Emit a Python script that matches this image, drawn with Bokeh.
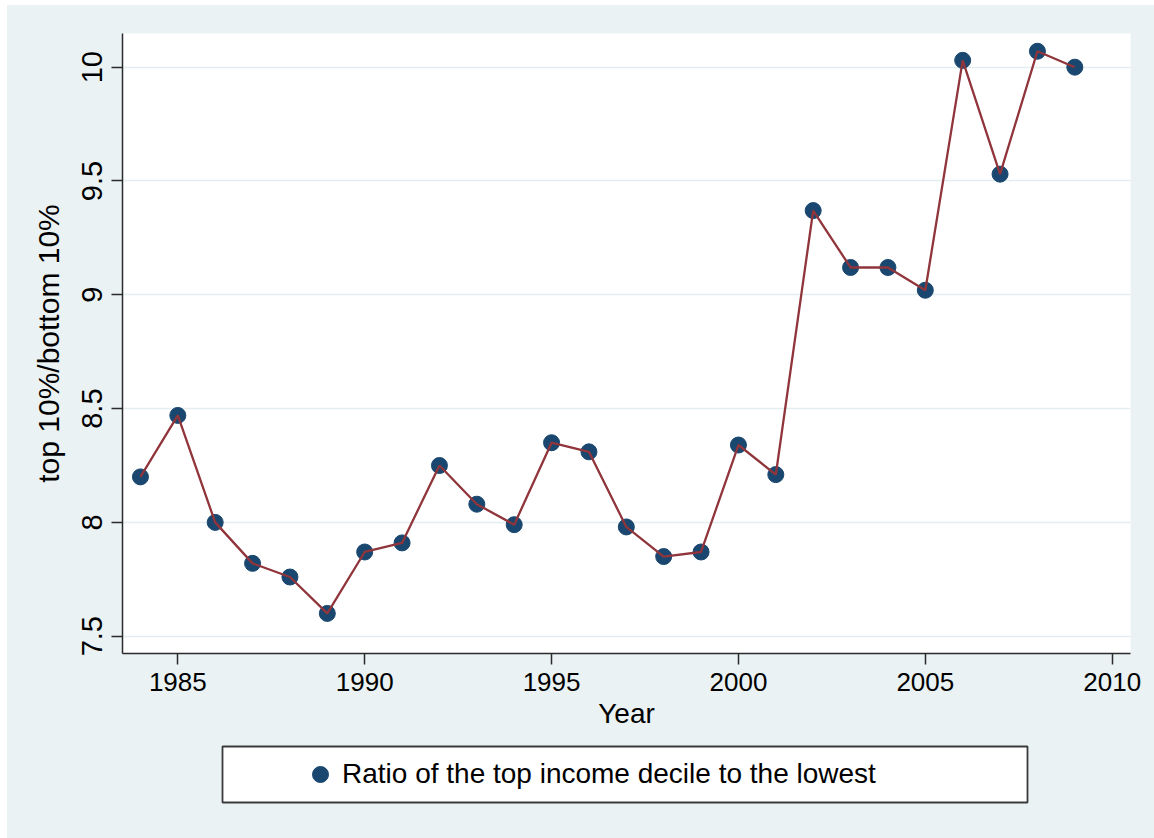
from bokeh.plotting import figure
from bokeh.models import (ColumnDataSource, FixedTicker, NumeralTickFormatter, Legend,
                          LegendItem, Spacer, Range1d)
from bokeh.layouts import column, row
from bokeh.embed import file_html
from bokeh.resources import INLINE

# Income inequality: ratio of the top decile to the bottom decile, by year
years = [1984, 1985, 1986, 1987, 1988, 1989, 1990, 1991, 1992, 1993, 1994, 1995, 1996,
         1997, 1998, 1999, 2000, 2001, 2002, 2003, 2004, 2005, 2006, 2007, 2008, 2009]
ratio = [8.20, 8.47, 8.00, 7.82, 7.76, 7.60, 7.87, 7.91, 8.25, 8.08, 7.99, 8.35, 8.31,
         7.98, 7.85, 7.87, 8.34, 8.21, 9.37, 9.12, 9.12, 9.02, 10.03, 9.53, 10.07, 10.00]

x_ticks = [1985, 1990, 1995, 2000, 2005, 2010]
y_ticks = [7.5, 8, 8.5, 9, 9.5, 10]

series_label = "Ratio of the top income decile to the lowest"
x_title = "Year"
y_title = "top 10%/bottom 10%"

BG = "#eaf2f3"
NAVY = "#1a476f"
MAROON = "#90353b"
AXIS = "#2b2b2b"
FONT = "Liberation Sans"

src = ColumnDataSource(dict(year=years, ratio=ratio))

# ---- main plot -------------------------------------------------------------
p = figure(width=1147, height=735, output_backend="svg", toolbar_location=None,
           x_range=Range1d(1983.52, 2010.49), y_range=Range1d(7.424, 10.148),
           min_border_left=115, min_border_right=24, min_border_top=28, min_border_bottom=87)

p.background_fill_color = "white"
p.border_fill_color = BG
p.outline_line_color = None

# markers first, connecting line drawn over them
pts = p.scatter("year", "ratio", source=src, size=16, color=NAVY)
p.line("year", "ratio", source=src, line_color=MAROON, line_width=2.3)

# grid
p.xgrid.visible = False
p.ygrid.ticker = FixedTicker(ticks=y_ticks)
p.ygrid.grid_line_color = "#e4edef"
p.ygrid.grid_line_width = 1.5

# axes
for ax in (p.xaxis[0], p.yaxis[0]):
    ax.axis_line_color = AXIS
    ax.axis_line_width = 1.5
    ax.major_tick_line_color = AXIS
    ax.major_tick_line_width = 1.5
    ax.major_tick_out = 11
    ax.major_tick_in = 0
    ax.minor_tick_line_color = None
    ax.major_label_text_font = FONT
    ax.major_label_text_color = "black"
    ax.axis_label_text_font = FONT
    ax.axis_label_text_font_style = "normal"
    ax.axis_label_text_color = "black"

p.xaxis.ticker = FixedTicker(ticks=x_ticks)
p.xaxis.formatter = NumeralTickFormatter(format="0")
p.xaxis.axis_label = x_title
p.xaxis.major_label_text_font_size = "26px"
p.xaxis.axis_label_text_font_size = "28px"
p.xaxis.major_label_standoff = 8
p.xaxis.axis_label_standoff = 4

p.yaxis.ticker = FixedTicker(ticks=y_ticks)
p.yaxis.formatter = NumeralTickFormatter(format="0.[0]")
p.yaxis.major_label_orientation = "vertical"
p.yaxis.major_label_text_font_size = "29px"
p.yaxis.axis_label = y_title
p.yaxis.axis_label_text_font_size = "30px"
p.yaxis.major_label_standoff = 9
p.yaxis.axis_label_standoff = 15

# ---- key below the plot ------------------------------------------------------
key = figure(width=1147, height=98, output_backend="svg", toolbar_location=None,
             x_range=Range1d(0, 1), y_range=Range1d(0, 1),
             x_axis_type=None, y_axis_type=None,
             min_border_left=215, min_border_right=127, min_border_top=6, min_border_bottom=36)
key.background_fill_color = "white"
key.border_fill_color = BG
key.outline_line_color = "#3a3a3a"
key.outline_line_width = 1.8
key.xgrid.visible = False
key.ygrid.visible = False

# same series, outside the key's ranges: only its legend swatch shows
key_marker = key.scatter("year", "ratio", source=src, size=16, color=NAVY)

legend = Legend(items=[LegendItem(label=series_label, renderers=[key_marker])],
                location=(78, 8), orientation="vertical",
                glyph_width=40, glyph_height=40, label_standoff=2,
                padding=0, margin=0, spacing=0,
                border_line_alpha=0, background_fill_alpha=0,
                label_text_font=FONT, label_text_font_size="28px",
                label_text_color="black")
key.add_layout(legend)

graph = column(row(p), row(key), spacing=0, styles={"background-color": BG})
layout = column(Spacer(height=5), row(Spacer(width=7), graph), spacing=0)

open("out.html", "w").write(file_html(layout, INLINE))
